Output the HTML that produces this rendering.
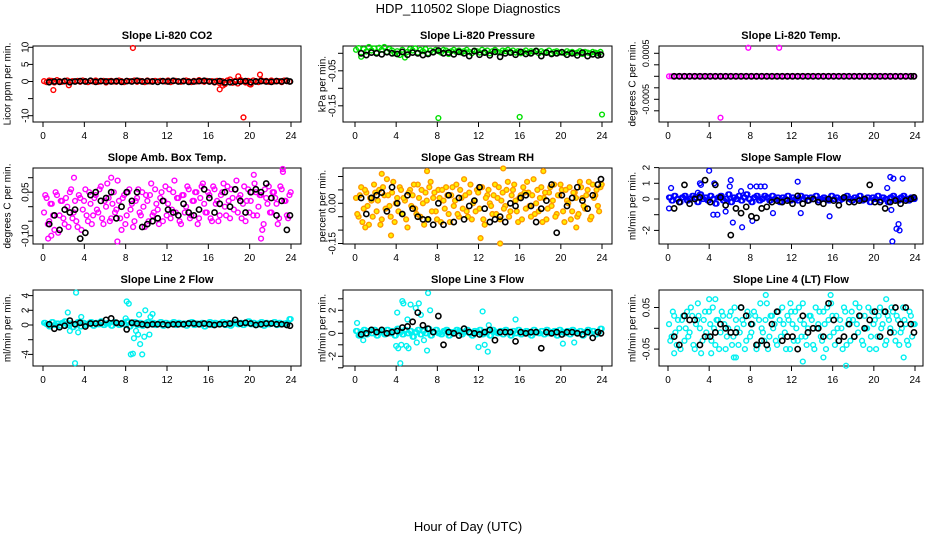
<!DOCTYPE html>
<html><head><meta charset="utf-8"><style>
body{margin:0;background:#fff;}
svg{display:block;font-family:"Liberation Sans",sans-serif;}
</style></head><body>
<svg id="c" width="936" height="540" viewBox="0 0 936 540">
<text x="468" y="13" text-anchor="middle" font-size="13">HDP_110502  Slope Diagnostics</text>
<text x="468" y="531" text-anchor="middle" font-size="13">Hour of Day (UTC)</text>
</svg>
<script>
const T=[0.1,0.35,0.6,0.85,1.1,1.35,1.6,1.85,2.1,2.35,2.6,2.85,3.1,3.35,3.6,3.85,4.1,4.35,4.6,4.85,5.1,5.35,5.6,5.85,6.1,6.35,6.6,6.85,7.1,7.35,7.6,7.85,8.1,8.35,8.6,8.85,9.1,9.35,9.6,9.85,10.1,10.35,10.6,10.85,11.1,11.35,11.6,11.85,12.1,12.35,12.6,12.85,13.1,13.35,13.6,13.85,14.1,14.35,14.6,14.85,15.1,15.35,15.6,15.85,16.1,16.35,16.6,16.85,17.1,17.35,17.6,17.85,18.1,18.35,18.6,18.85,19.1,19.35,19.6,19.85,20.1,20.35,20.6,20.85,21.1,21.35,21.6,21.85,22.1,22.35,22.6,22.85,23.1,23.35,23.6,23.85];
const T2=[0.22,0.47,0.72,0.97,1.22,1.47,1.72,1.97,2.22,2.47,2.72,2.97,3.22,3.47,3.72,3.97,4.22,4.47,4.72,4.97,5.22,5.47,5.72,5.97,6.22,6.47,6.72,6.97,7.22,7.47,7.72,7.97,8.22,8.47,8.72,8.97,9.22,9.47,9.72,9.97,10.22,10.47,10.72,10.97,11.22,11.47,11.72,11.97,12.22,12.47,12.72,12.97,13.22,13.47,13.72,13.97,14.22,14.47,14.72,14.97,15.22,15.47,15.72,15.97,16.22,16.47,16.72,16.97,17.22,17.47,17.72,17.97,18.22,18.47,18.72,18.97,19.22,19.47,19.72,19.97,20.22,20.47,20.72,20.97,21.22,21.47,21.72,21.97,22.22,22.47,22.72,22.97,23.22,23.47,23.72,23.97];
const B=[0.6,1.1,1.6,2.1,2.6,3.1,3.6,4.1,4.6,5.1,5.6,6.1,6.6,7.1,7.6,8.1,8.6,9.1,9.6,10.1,10.6,11.1,11.6,12.1,12.6,13.1,13.6,14.1,14.6,15.1,15.6,16.1,16.6,17.1,17.6,18.1,18.6,19.1,19.6,20.1,20.6,21.1,21.6,22.1,22.6,23.1,23.6,23.9];
const xTicks=[0,4,8,12,16,20,24];

const co2C=[0.1,-0.2,0.3,0.2,-0.3,0.4,0.1,-0.1,0.2,0.3,-0.2,0.1,0,0.2,-0.1,0.3,0.1,-0.2,0.2,0,0.3,-0.1,0.1,0.2,-0.3,0.1,0.2,0,-0.1,0.3,0.1,-0.2,0.2,0.1,0,0.3,-0.1,0.2,0.1,-0.2,0.3,0,0.1,0.2,-0.1,0.2,0.1,0,0.3,-0.2,0.1,0.2,0,-0.1,0.2,0.3,0.1,-0.2,0.2,0,0.4,0.1,-0.1,0.2,0,0.1,-0.3,0.2,-0.5,0.1,-0.8,0.3,0.6,-0.4,0.2,-0.6,0.5,0.1,-0.3,0.2,-0.9,0.3,0.1,-0.2,0.4,0.1,0.2,-0.1,0.3,0,0.2,0.1,-0.2,0.3,0.1,0];
const co2OX=[1.0,2.5,8.7,17.1,17.4,18.9,19.4,21.0,20.0];
const co2OY=[-2.5,-1.1,9.8,-2.3,-1.2,1.5,-10.5,2.0,-0.8];
const co2K=[-0.2,0,-0.1,0.1,-0.2,0,0.1,0,0.2,-0.1,0.1,0,0,0.1,-0.1,0.1,0,0.2,0,0.1,0,-0.1,0.1,0,0.2,0,0.1,-0.1,0,0.1,0.2,0,-0.1,0.1,-0.3,-0.2,-0.1,0,0.1,-0.2,0,0.1,0,-0.1,0.1,0,0.2,0];

const presC=[0.01,0.015,-0.01,0.012,0.005,0.018,0.008,0.014,0.002,0.016,0.01,0.018,0.004,0.012,0.008,0,0.006,-0.005,0.01,-0.012,0.004,0.012,0.008,0.014,0.002,0.01,0.006,0.012,0,0.008,0.004,0.01,0.006,0.002,0.01,0.008,-0.002,0.006,0.01,0.004,0.008,0.002,0.006,0.01,0.004,0,0.008,0.006,0.002,0.01,0.004,0.008,0,0.006,0.01,0.004,0.002,0.008,0.006,0.01,0.004,0.008,0.002,0.006,0,0.004,0.008,0.002,0.006,0.004,0.008,0,0.006,0.002,0.004,0.008,0,0.004,0.006,0.002,0.004,0,0.006,0.002,0.004,0,0.002,0.006,-0.002,0.004,0.002,0,0.004,0.002,0,0.004];
const presOX=[8.1,16,24];
const presOY=[-0.185,-0.182,-0.175];
const presK=[0,-0.005,0.002,0,-0.003,0.003,0,-0.002,0.004,-0.004,0.002,0,-0.005,-0.002,0.003,0.008,0,0.002,-0.003,0.004,0,-0.008,0.006,-0.004,0.002,-0.006,0.004,-0.01,0,0.002,-0.004,0.004,-0.002,0,0.006,-0.008,0.002,-0.002,0,0.003,-0.004,0,-0.006,0.002,-0.008,-0.003,-0.006,-0.004];

const tempC=[0,0,0,0,0,0,0,0,0,0,0,0,0,0,0,0,0,0,0,0,0,0,0,0,0,0,0,0,0,0,0,0,0,0,0,0,0,0,0,0,0,0,0,0,0,0,0,0,0,0,0,0,0,0,0,0,0,0,0,0,0,0,0,0,0,0,0,0,0,0,0,0,0,0,0,0,0,0,0,0,0,0,0,0,0,0,0,0,0,0,0,0,0,0,0,0];
const tempOX=[7.8,10.8,5.1];
const tempOY=[0.00062,0.00062,-0.0009];
const tempK=[0,0,0,0,0,0,0,0,0,0,0,0,0,0,0,0,0,0,0,0,0,0,0,0,0,0,0,0,0,0,0,0,0,0,0,0,0,0,0,0,0,0,0,0,0,0,0,0];

const ambC=[-0.02,0.03,-0.05,0.01,-0.08,0.04,-0.03,0.02,-0.06,0.00,0.05,-0.04,0.02,-0.07,0.03,-0.01,0.06,-0.05,0.01,-0.03,0.04,-0.02,0.07,-0.06,0.00,0.03,-0.04,0.05,-0.01,0.02,-0.08,0.04,-0.03,0.06,0.01,-0.05,0.03,-0.02,0.05,-0.07,0.02,0.04,-0.03,0.06,-0.01,0.03,-0.05,0.07,0.01,-0.04,0.05,-0.02,0.03,-0.06,0.04,0.00,0.06,-0.03,0.02,0.05,-0.04,0.07,0.01,-0.02,0.04,-0.05,0.06,0.02,-0.03,0.05,0.00,0.07,-0.04,0.03,0.06,-0.02,0.04,0.01,-0.05,0.06,0.02,-0.03,0.05,0.00,0.04,-0.06,0.03,0.07,-0.02,0.05,0.01,-0.04,0.06,0.02,-0.03,0.04];
const ambC2=[0.04,-0.06,0.01,-0.03,0.05,-0.09,0.02,-0.04,0.03,-0.07,0.06,-0.02,-0.05,0.04,-0.08,0.02,-0.03,0.05,-0.06,0.03,-0.01,0.06,-0.04,0.02,0.08,-0.05,0.01,-0.02,0.09,-0.04,0.03,-0.06,0.05,-0.01,-0.07,0.02,0.06,-0.03,0.00,0.04,-0.05,0.08,-0.02,0.01,-0.06,0.05,0.02,-0.03,0.06,-0.01,0.09,0.03,-0.05,0.04,-0.02,0.07,-0.04,0.02,0.05,-0.06,0.03,0.08,-0.02,0.05,-0.04,0.07,0.01,-0.05,0.04,0.08,-0.03,0.02,0.06,-0.01,0.09,0.03,-0.04,0.07,0.02,-0.02,0.05,0.08,-0.03,0.04,-0.08,0.06,0.01,-0.02,0.05,0.03,-0.06,0.07,0.12,0.02,-0.04,0.05];
const ambOX=[0.5,0.8,3.0,7.2,6.6,21.1,20.4,23.2];
const ambOY=[-0.11,-0.10,0.10,-0.12,0.10,-0.11,0.11,0.13];
const ambK=[-0.06,-0.03,-0.08,-0.01,-0.02,-0.01,-0.11,-0.09,0.04,0.05,0.02,0.03,0.05,-0.04,0,0.05,0.02,0.05,-0.07,-0.06,-0.05,-0.04,0.02,-0.01,-0.02,-0.03,0.01,-0.02,-0.03,-0.01,0.06,0.03,-0.02,0.01,0.05,0,0.06,0.02,-0.02,0.05,0.06,0.05,0.08,0.03,-0.03,0.02,-0.08,-0.03];

const rhC=[0.02,-0.05,0.06,-0.02,0.04,-0.08,0.01,0.07,-0.03,0.05,-0.06,0.03,0.09,-0.01,0.04,-0.07,0.02,0.06,-0.04,0.01,-0.09,0.05,0.03,-0.02,0.07,-0.05,0.00,0.04,-0.06,0.08,0.02,-0.03,0.05,-0.07,0.01,0.06,-0.04,0.03,-0.01,0.07,-0.05,0.02,0.09,-0.03,0.04,-0.06,0.01,0.05,-0.02,0.06,-0.08,0.03,0.00,-0.04,0.07,0.02,-0.06,0.04,-0.01,0.08,-0.03,0.05,0.01,-0.07,0.03,0.06,-0.02,0.04,-0.05,0.09,0.00,-0.03,0.06,0.02,-0.06,0.04,-0.01,0.07,-0.04,0.03,0.05,-0.07,0.01,0.06,-0.03,0.04,-0.05,0.08,0.02,-0.02,0.05,-0.06,0.07,0.03,-0.01,0.06];
const rhC2=[-0.04,0.03,-0.07,0.05,-0.01,0.02,-0.05,0.04,0.01,-0.08,0.06,-0.02,0.03,-0.05,0.08,0.00,-0.03,0.05,0.02,-0.06,0.04,-0.01,0.07,-0.04,0.02,0.05,-0.08,0.01,0.06,-0.03,0.04,-0.06,0.02,0.05,-0.02,0.03,-0.07,0.06,0.01,-0.04,0.05,-0.02,0.03,-0.05,0.07,0.00,-0.03,0.04,0.06,-0.06,0.02,0.05,-0.01,0.03,-0.04,0.06,0.01,-0.02,0.05,-0.05,0.03,0.07,-0.03,0.02,-0.06,0.04,0.08,-0.01,0.03,-0.04,0.05,0.02,-0.07,0.04,-0.02,0.06,0.01,-0.05,0.03,0.07,-0.03,0.05,0.00,-0.06,0.04,0.02,-0.04,0.06,-0.01,0.03,0.08,-0.05,0.02,0.05,-0.03,0.07];
const rhOX=[2.6,3.5,7.0,12.2,14.1,14.4,18.3,21.5,1.0];
const rhOY=[0.11,-0.12,0.12,-0.13,-0.15,0.13,0.12,-0.09,-0.09];
const rhK=[0.02,-0.04,0.02,0.03,0.04,-0.03,0.06,0,-0.04,0.03,-0.02,-0.05,-0.06,-0.06,-0.08,0,-0.08,0.03,-0.07,0.02,-0.06,-0.01,0.01,0.06,-0.02,-0.07,-0.06,-0.05,-0.07,0,-0.01,0.02,0.03,-0.01,-0.07,-0.02,0.01,0.07,-0.11,0.03,-0.01,0.02,0.06,0.01,-0.02,0.03,0.07,0.09];

const sfC=[0.1,-0.1,0.2,0,-0.2,0.1,0.2,-0.1,0,0.2,0.1,-0.2,0.3,0,0.1,-0.1,0.2,0,-0.3,0.1,0.2,-0.1,0,0.3,-0.2,0.1,0,0.2,-0.1,0.1,0.3,0,-0.2,0.1,0.2,-0.1,0,0.2,0.1,-0.1,0.2,0,0.1,-0.2,0.1,0,0.2,-0.1,0.1,0,-0.1,0.2,0,0.1,-0.1,0.1,0,0.2,-0.1,0,0.1,0,-0.1,0.2,0,0.1,-0.1,0,0.1,0.2,0,-0.1,0.1,0,0.2,-0.1,0,0.1,-0.2,0.1,0,0.2,-0.1,0.1,0,-0.2,0.1,0.2,0,-0.1,0.1,0.2,0,-0.1,0.1,0];
const sfOX=[0.1,0.3,3.1,3.2,4.0,4.4,4.5,4.8,5.6,6.0,6.1,6.3,7.2,7.1,8.0,8.2,8.6,9.0,10.2,12.6,12.9,15.7,21.6,21.9,21.8,22.2,22.4,22.5,22.8,21.3,21.7,9.4,2.9];
const sfOY=[-0.6,0.7,1.0,0.9,1.8,-1.0,1.0,-1.0,-0.8,0.8,1.2,-1.5,-1.8,0.5,0.8,-1.4,0.8,0.8,-0.9,1.1,-0.9,-1.1,1.4,1.3,-2.7,-1.9,-1.6,-2.0,1.3,0.7,-0.7,0.8,0.4];
const sfK=[-0.6,-0.2,0.9,-0.3,0,0.1,1.2,-0.2,0.9,0.1,-0.4,-2.3,-0.6,-0.9,-0.5,-1.1,-1.2,-0.6,-0.5,-0.2,-0.1,-0.2,-0.1,-0.3,0.2,-0.3,-0.1,0,-0.2,-0.3,0,-0.1,-0.4,0.1,-0.2,-0.2,-0.1,0,0.9,-0.2,-0.2,-0.6,-0.2,-0.1,-0.3,-0.1,0,0.1];

const l2C=[0.3,0.1,-0.2,0.4,0,0.2,-0.1,0.3,0.5,0,0.2,-0.3,0.1,0.4,-0.2,0.3,0,0.2,0.4,-0.1,0.3,0.1,0.5,0,0.2,0.3,-0.1,0.4,0.2,0,0.3,0.1,0.5,-0.2,0.2,0.4,0,0.3,-0.1,0.2,0.4,0.1,0.3,0,0.2,0.4,-0.1,0.3,0.1,0.2,0.4,0,0.3,0.1,0.2,-0.1,0.3,0.4,0,0.2,0.1,0.3,-0.2,0.2,0.4,0,0.3,0.1,0.2,0.4,0,0.3,-0.1,0.2,0.4,0.1,0.3,0,0.2,0.5,0.1,0.3,0,0.2,0.4,-0.1,0.3,0.1,0.2,0.4,0,0.3,0.1,0.2,0.3,0.8];
const l2OX=[2.4,2.6,3.2,3.1,3.4,3.7,8.1,8.3,8.5,8.7,8.8,9.0,9.2,9.3,9.4,9.6,9.8,9.9,10.3,10.4,10.6,8.0];
const l2OY=[1.7,-0.8,4.4,-5.2,-1.0,1.1,3.2,2.9,-4.0,-3.9,-1.8,-0.8,-1.3,1.4,-2.6,-4.0,-1.6,2.0,-1.3,1.1,1.5,0.9];
const l2K=[0.1,-0.5,-0.3,-0.1,0.6,0.1,0.3,-0.2,0.2,0.2,0.3,0.7,0.9,0.3,0.2,-0.6,0.3,0.2,0.1,0,0.1,0.1,0.1,0,0.1,0.1,0.1,0.2,0.2,0.1,0.2,0.1,0,0.1,0.1,0.2,0.7,0.2,0.3,0.2,0,0.1,0.2,0.2,0.1,0.1,0,-0.1];

const l3C=[0.2,-0.2,0.1,0.3,-0.1,0.2,0,0.3,-0.2,0.1,0.2,-0.1,0.3,0,0.2,-0.2,0.4,0.1,-0.1,0.3,0,0.2,-0.3,0.1,0.3,-0.1,0.2,0,0.4,-0.2,0.1,0.3,0,-0.1,0.2,0.3,-0.2,0.1,0,0.3,0.2,-0.1,0.1,0.3,0,-0.2,0.2,0.1,0.3,-0.1,0,0.2,-0.2,0.3,0.1,0,0.2,-0.1,0.3,0.1,-0.2,0.2,0,0.3,-0.1,0.1,0.2,0,-0.2,0.3,0.1,0,0.2,-0.1,0.3,0,0.1,0.2,-0.2,0.3,0.1,0,0.2,-0.1,0.3,0.1,0,0.2,-0.2,0.1,0.3,0,0.2,-0.1,0.1,0.4];
const l3OX=[0.2,0.8,4.0,4.1,4.2,4.4,4.5,4.6,4.7,5.0,5.1,5.2,5.4,5.9,6.0,6.2,6.4,6.7,7.0,7.1,7.3,12.0,12.4,12.6,12.9,13.0,15.6,20.2,21.3];
const l3OY=[0.9,-0.6,-1.1,1.8,-1.3,-2.6,-1.0,2.8,2.6,-1.1,1.2,-1.3,2.5,2.2,-0.8,2.6,1.6,-0.6,-1.5,3.5,2.0,-1.2,1.9,-1.0,-1.6,0.7,1.2,-0.9,-0.8];
const l3K=[-0.1,0,0.3,0.1,0.3,0,0.1,0.2,0.5,0.6,1.0,1.8,0.7,0.4,0.1,1.5,-1.0,0.1,0,-0.2,0.4,0.1,0,-0.1,0.1,0.3,-0.6,0.1,0.1,0.1,-0.7,0.1,0,0.1,0.1,-1.3,0.1,0,0.1,-0.1,0.1,0.1,0,-0.1,0.1,-0.4,0.1,0];

const l4C=[0.01,-0.02,0.03,-0.04,0.00,0.02,-0.03,0.04,-0.01,0.03,-0.05,0.02,0.00,-0.03,0.04,-0.02,0.01,0.05,-0.04,0.02,-0.01,0.03,-0.05,0.00,0.04,-0.02,0.02,-0.04,0.05,0.01,-0.03,0.03,-0.01,0.04,-0.05,0.02,0.00,-0.03,0.06,-0.02,0.03,0.01,-0.04,0.02,0.05,-0.01,0.03,-0.05,0.01,0.04,-0.03,0.02,0.06,-0.02,0.00,0.03,-0.04,0.05,0.01,-0.02,0.04,-0.05,0.02,0.06,-0.01,0.03,-0.03,0.00,0.05,-0.04,0.02,0.04,-0.02,0.01,0.05,-0.03,0.03,0.00,-0.05,0.04,0.02,-0.02,0.05,0.01,-0.04,0.03,0.00,0.04,-0.03,0.02,-0.01,0.05,0.01,-0.04,0.03,0.01];
const l4C2=[-0.03,0.04,-0.01,0.02,-0.05,0.03,0.00,-0.02,0.05,-0.04,0.01,0.03,-0.06,0.02,-0.01,0.04,-0.03,0.00,0.02,-0.05,0.04,0.01,-0.02,0.03,-0.04,0.05,0.00,-0.01,0.02,-0.05,0.04,-0.02,0.01,0.03,-0.04,0.06,-0.01,0.02,-0.05,0.03,0.00,-0.03,0.04,-0.02,0.01,-0.05,0.02,0.04,-0.03,0.00,0.05,-0.02,0.01,-0.04,0.03,0.02,-0.05,0.00,0.04,-0.03,0.01,0.05,-0.02,0.03,-0.04,0.00,0.02,-0.05,0.04,0.01,-0.03,0.02,0.06,-0.01,0.03,-0.04,0.00,0.05,-0.02,0.01,-0.05,0.03,0.00,0.04,-0.03,0.02,0.05,-0.01,0.03,-0.04,0.00,0.02,-0.03,0.04,-0.02,0.01];
const l4OX=[0.6,2.9,4.0,4.6,4.2,6.4,6.6,9.5,11.9,13.1,15.8,17.3,21.2,22.9,15.1];
const l4OY=[-0.06,0.06,0.07,0.07,-0.06,-0.07,-0.07,0.08,0.06,-0.08,0.08,-0.09,0.07,-0.07,-0.07];
const l4K=[-0.02,-0.04,0.03,0.02,0.02,-0.04,-0.02,-0.02,-0.01,0.01,0,-0.01,-0.01,0.05,0.03,0.01,-0.04,-0.03,-0.04,0.01,0.04,-0.03,-0.02,-0.02,-0.05,0.03,-0.01,0,0,-0.02,0.06,0.02,-0.03,-0.02,0.01,-0.02,0.03,0,0.02,0.04,-0.02,0.04,-0.01,0.05,0.01,0.05,0.01,-0.01];

const NS='http://www.w3.org/2000/svg';
const svg=document.getElementById('c');
function mk(tag,attrs,parent){const e=document.createElementNS(NS,tag);for(const k in attrs)e.setAttribute(k,attrs[k]);(parent||svg).appendChild(e);return e;}
const cols=[{l:33,r:301,x0:43,x1:291,yt:7,tl:25},{l:343,r:612,x0:355,x1:602,yt:322,tl:332},{l:659,r:923,x0:668,x1:915,yt:632,tl:646}];
const rows=[{t:46,b:122},{t:168,b:244},{t:290,b:366}];
const panels=[
{name:'co2',title:'Slope Li-820 CO2',ylab:'Licor ppm per min.',c:0,r:0,y0:81.5,ppu:3.42,ticks:[10,5,0,-5,-10],labs:['10','5','0','','-10'],col:'#ff0000',fill:'none',s:[[T,co2C],[co2OX,co2OY]],k:co2K},
{name:'pressure',title:'Slope Li-820 Pressure',ylab:'kPa per min.',c:1,r:0,y0:53.3,ppu:350,ticks:[0,-0.05,-0.1,-0.15],labs:['','-0.05','','-0.15'],col:'#00e000',fill:'none',s:[[T,presC],[presOX,presOY]],k:presK},
{name:'temp',title:'Slope Li-820 Temp.',ylab:'degrees C per min.',c:2,r:0,y0:76.3,ppu:46000,ticks:[0.0005,0.00025,0,-0.00025,-0.0005,-0.00075],labs:['0.0005','','','','-0.0005',''],fs:9,col:'#ff00ff',fill:'none',s:[[T,tempC],[tempOX,tempOY]],k:tempK},
{name:'amb-box-temp',title:'Slope Amb. Box Temp.',ylab:'degrees C per min.',c:0,r:1,y0:206.7,ppu:290,ticks:[0.1,0.05,0,-0.05,-0.1],labs:['','0.05','','','-0.10'],col:'#ff00ff',fill:'none',s:[[T,ambC],[T2,ambC2],[ambOX,ambOY]],k:ambK},
{name:'gas-stream-rh',title:'Slope Gas Stream RH',ylab:'percent per min.',c:1,r:1,y0:203.3,ppu:268,ticks:[0.1,0.05,0,-0.05,-0.1,-0.15],labs:['','','0.00','','','-0.15'],col:'#ff9900',fill:'#ffee00',s:[[T,rhC],[T2,rhC2],[rhOX,rhOY]],k:rhK},
{name:'sample-flow',title:'Slope Sample Flow',ylab:'ml/min per min.',c:2,r:1,y0:199,ppu:15.7,ticks:[2,1,0,-1,-2],labs:['2','1','0','','-2'],col:'#0000ff',fill:'none',s:[[T,sfC],[T2,sfC],[sfOX,sfOY]],k:sfK},
{name:'line2-flow',title:'Slope Line 2 Flow',ylab:'ml/min per min.',c:0,r:2,y0:325,ppu:7.35,ticks:[4,2,0,-2,-4],labs:['4','2','0','','-4'],col:'#00f0f0',fill:'none',s:[[T,l2C],[T2,l2C],[l2OX,l2OY]],k:l2K},
{name:'line3-flow',title:'Slope Line 3 Flow',ylab:'ml/min per min.',c:1,r:2,y0:333.3,ppu:11.5,ticks:[3,2,1,0,-1,-2,-3],labs:['','2','','0','','-2',''],col:'#00f0f0',fill:'none',s:[[T,l3C],[T2,l3C],[l3OX,l3OY]],k:l3K},
{name:'line4-flow',title:'Slope Line 4 (LT) Flow',ylab:'ml/min per min.',c:2,r:2,y0:328.3,ppu:416,ticks:[0.05,0,-0.05],labs:['0.05','','-0.05'],col:'#00f0f0',fill:'none',s:[[T,l4C],[T2,l4C2],[l4OX,l4OY]],k:l4K}
];
panels.forEach(p=>{
  const C=cols[p.c],R=rows[p.r];
  const g=mk('g',{});
  
  
  const xs=v=>C.x0+(C.x1-C.x0)*v/24;
  const ys=v=>p.y0-v*p.ppu;
  const cx=(C.l+C.r)/2;
  const ti=mk('text',{x:cx,y:R.t-7,'text-anchor':'middle','font-size':11,'font-weight':'bold'},g);
  ti.textContent=p.title;
  
  
  const yl=mk('text',{x:0,y:0,dy:'0.35em','text-anchor':'middle','font-size':10,transform:`translate(${C.yt},${(R.t+R.b)/2}) rotate(-90)`},g);
  yl.textContent=p.ylab;
  
  
  const box=mk('rect',{x:C.l,y:R.t,width:C.r-C.l,height:R.b-R.t,fill:'none',stroke:'#000','stroke-width':1},g);
  
  
  mk('line',{x1:xs(0),x2:xs(24),y1:R.b,y2:R.b,stroke:'#000'},g);
  xTicks.forEach(t=>{
    mk('line',{x1:xs(t),x2:xs(t),y1:R.b,y2:R.b+5,stroke:'#000'},g);
    const tl=mk('text',{x:xs(t),y:R.b+17,'text-anchor':'middle','font-size':10},g);
    tl.textContent=t;
    
    
  });
  const yv=p.ticks.map(ys);
  mk('line',{x1:C.l,x2:C.l,y1:Math.min(...yv),y2:Math.max(...yv),stroke:'#000'},g);
  p.ticks.forEach((t,i)=>{
    mk('line',{x1:C.l-5,x2:C.l,y1:ys(t),y2:ys(t),stroke:'#000'},g);
    if(p.labs[i]){
      const tl=mk('text',{x:0,y:0,dy:'0.35em','text-anchor':'middle','font-size':p.fs||10,transform:`translate(${C.tl},${ys(t)}) rotate(-90)`},g);
      tl.textContent=p.labs[i];
      
      
    }
  });
  const pts=mk('g',{},g);
  
  
  p.s.forEach(([X,Y])=>{
    const n=Math.min(X.length,Y.length);
    for(let i=0;i<n;i++){
      const c=mk('circle',{cx:xs(X[i]),cy:ys(Y[i]),r:2.4,fill:p.fill,stroke:p.col,'stroke-width':1.4},pts);
      
      
    }
  });
  const kp=mk('g',{},g);
  
  
  const n=Math.min(B.length,p.k.length);
  for(let i=0;i<n;i++){
    const c=mk('circle',{cx:xs(B[i]),cy:ys(p.k[i]),r:2.6,fill:'none',stroke:'#000','stroke-width':1.6},kp);
    
    
  }
});
</script>
</body></html>
